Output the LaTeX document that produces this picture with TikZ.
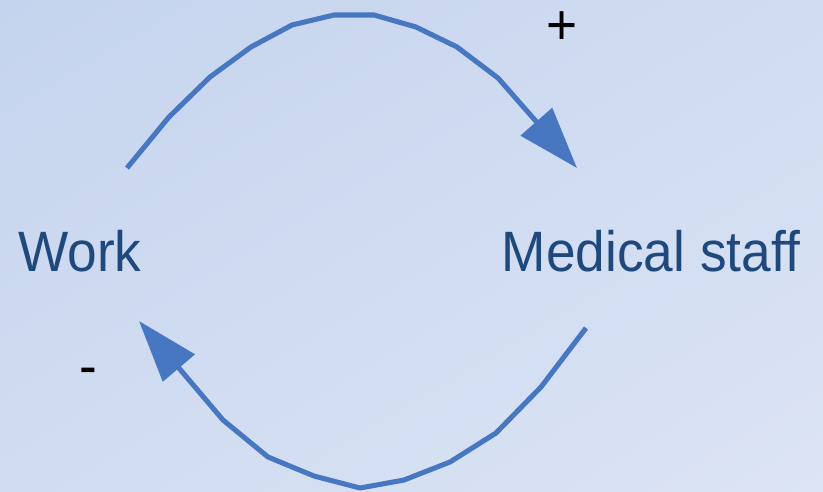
\documentclass[tikz,border=0pt]{standalone}
\usepackage{fontspec}
\usepackage{tikz}
\usetikzlibrary{arrows.meta,shadings}
\newfontfamily\lblfont[FakeStretch=0.935,Ligatures=NoCommon]{Liberation Sans}
\definecolor{bgtl}{HTML}{C5D4EE}
\definecolor{bgbr}{HTML}{DCE4F5}
\definecolor{bgmid}{HTML}{D0DCF1}
\definecolor{loopblau}{HTML}{4677C0}
\definecolor{textblau}{HTML}{1F497D}
\tikzset{
  lbl/.style={font=\lblfont\fontsize{48.6}{58}\selectfont,textblau,inner sep=0pt},
  zeichen/.style={font=\lblfont\fontsize{48.6}{58}\selectfont,black,inner sep=0pt,
    text height=0.6em,text depth=0pt},
  schleife/.style={loopblau,line width=4.3pt,line join=round,
    -{Triangle[length=1.85cm,width=1.23cm]}},
}

\begin{document}
\begin{tikzpicture}[x=0.03cm,y=-0.03cm]
  \useasboundingbox (0,0) rectangle (823,491);
  \shade[upper left=bgtl,upper right=bgmid,lower left=bgmid,lower right=bgbr]
    (0,0) rectangle (823,491);
  % Variablen
  \node[lbl,anchor=base west] (work) at (18,271) {Work};
  \node[lbl,anchor=base east] (staff) at (801,271) {Medical staf\kern0ptf};
  % Enden der Schleife
  \coordinate (w-out) at (127,168);
  \coordinate (s-in) at (577,168);
  \coordinate (s-out) at (586,328);
  \coordinate (w-in) at (139,321);
  % oben: Work -> Medical staff
  \draw[schleife] (w-out) -- (169,117) -- (210,77) -- (251,47) -- (292,25)
    -- (334,15) -- (374,15) -- (416,27) -- (457,47) -- (498,78) -- (s-in);
  % unten: Medical staff -> Work
  \draw[schleife] (s-out) -- (541,387) -- (496,433) -- (450,462) -- (404,480)
    -- (360,488) -- (314,476) -- (268,457) -- (223,420) -- (w-in);
  \node[zeichen,anchor=base] (plus) at (562,44) {+};
  \node[zeichen,anchor=base] (minus) at (88,385) {-};
\end{tikzpicture}
\end{document}
